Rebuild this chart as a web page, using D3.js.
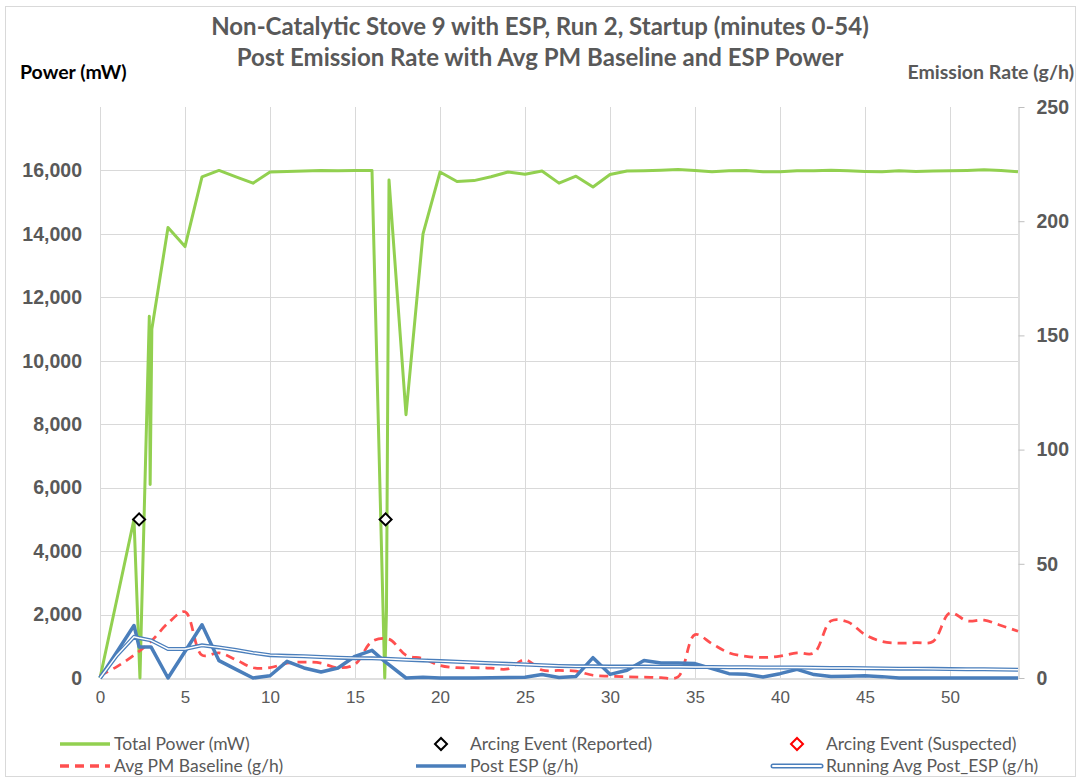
<!DOCTYPE html>
<html>
<head>
<meta charset="utf-8">
<script src="https://cdn.jsdelivr.net/npm/d3@7"></script>
<style>
  body { margin: 0; background: #fff; }
  svg { display: block; font-family: Lato, "Open Sans", sans-serif; }
</style>
</head>
<body>
<svg id="chart" width="1080" height="778"></svg>
<script>
// minutes for the per-minute series
const minutes = [0,1,2,3,4,5,6,7,8,9,10,11,12,13,14,15,16,17,18,19,20,21,22,23,24,25,26,27,
  28,29,30,31,32,33,34,35,36,37,38,39,40,41,42,43,44,45,46,47,48,49,50,51,52,53,54];

// total ESP power (mW), sampled finer around the arcing events
const powerTimes = [0,1,2,2.35,2.45,2.9,2.95,3.05,4,5,6,7,8,9,10,11,12,13,14,15,16,16.75,16.85,17,
  18,19,20,21,22,23,24,25,26,27,28,29,30,31,32,33,34,35,36,37,38,39,40,41,42,43,44,45,46,47,48,49,50,51,52,53,54];
const totalPower = [0,2500,5000,0,2100,11400,6100,11000,14200,13600,15800,16000,15800,15600,15950,15970,15980,16000,15990,16000,16000,0,2100,15700,
  8300,14000,15950,15650,15680,15800,15950,15880,15980,15600,15820,15480,15870,15980,15990,16010,16030,16000,15960,15990,16000,15960,15960,15990,15990,16010,15990,15970,15960,15990,15970,15980,15990,16000,16020,16000,15960];

// arcing events
const reportedTimes = [2.3, 16.8];
const reportedPower = [5000, 5000];
const suspectedTimes = [];
const suspectedPower = [];

// average PM baseline (g/h), one per minute
const avgBaseline = [1,5,10,16,24,29,10,11,8,4.5,4.5,6.5,7,6.5,4.5,6,16,17,10,8.5,5.5,4.5,4.5,4.3,4,8,3.5,3.3,3,1.2,
  0.8,0.5,0.4,0.2,0.5,19,15,11,9.5,9,9.6,11,11,25,24.5,19,16,15.3,15.5,16,28.5,25,25.3,23,20.5];

// post ESP emission rate and its running average (g/h)
const espTimes = [0,1,2,2.3,3,4,5,6,7,8,9,10,11,12,13,14,15,16,16.8,18,19,20,21,22,23,24,25,26,27,28,29,30,
  31,32,33,34,35,36,37,38,39,40,41,42,43,44,45,46,47,48,49,50,51,52,53,54];
const postEsp = [0,11.5,23,13.6,13.6,0,11.6,23.3,7.6,3.8,0,1,7.3,4.4,2.6,4.4,9.5,12.1,6.9,0,0.3,0,0,0,0.1,0.2,0.3,1.5,0.2,0.7,8.9,1.6,
  3.4,7.7,6.6,6.6,6.3,4.1,1.9,1.6,0.4,1.9,3.8,1.5,0.7,0.8,1,0.6,0,0,0,0,0,0,0,0];
const runningAvg = [0,10,18,17.5,16.5,12.7,12.7,14.3,13.4,12.3,11,10,9.7,9.5,9.2,8.9,8.7,8.6,8.4,8,7.7,7.4,7.1,6.8,6.5,6.2,5.9,5.6,5.3,5.1,5.1,5.0,
  5.0,5.0,4.9,4.9,4.8,4.8,4.7,4.7,4.6,4.6,4.6,4.5,4.4,4.4,4.3,4.2,4.1,4.1,4.0,3.9,3.8,3.8,3.7,3.6];

const xTicks = [0,5,10,15,20,25,30,35,40,45,50];
const powerTicks = [0,2000,4000,6000,8000,10000,12000,14000,16000];
const rateTicks = [0,50,100,150,200,250];

const titleLines = ['Non-Catalytic Stove 9 with ESP, Run 2, Startup (minutes 0-54)',
  'Post Emission Rate with Avg PM Baseline and ESP Power'];

const green = '#92d050', blue = '#4a7ebb', red = '#ff4f4f', grid = '#d9d9d9', textGray = '#595959';

const svg = d3.select('#chart');
const plot = { left: 100, right: 1018, top: 107, bottom: 678 };

const x = d3.scaleLinear().domain([0, 54]).range([plot.left, plot.right]);
const yPower = d3.scaleLinear().domain([0, 18000]).range([plot.bottom, plot.top]);
const yRate = d3.scaleLinear().domain([0, 250]).range([plot.bottom, plot.top]);

// outer border
svg.append('rect')
    .attr('x', 5.5).attr('y', 6.5).attr('width', 1070).attr('height', 770)
    .attr('fill', 'none').attr('stroke', grid);

// title
svg.append('g').selectAll('text').data(titleLines).join('text')
    .attr('x', 540).attr('y', (d, i) => 35 + i * 31)
    .attr('text-anchor', 'middle')
    .attr('font-size', 24).attr('font-weight', 'bold').attr('fill', textGray)
    .text(d => d);

// gridlines
svg.append('g').selectAll('line').data(powerTicks.filter(d => d > 0)).join('line')
    .attr('x1', plot.left).attr('x2', plot.right)
    .attr('y1', d => Math.round(yPower(d)) + 0.5).attr('y2', d => Math.round(yPower(d)) + 0.5)
    .attr('stroke', grid);
svg.append('g').selectAll('line').data(xTicks).join('line')
    .attr('x1', d => Math.round(x(d)) + 0.5).attr('x2', d => Math.round(x(d)) + 0.5)
    .attr('y1', plot.top).attr('y2', plot.bottom)
    .attr('stroke', grid);

// bottom axis
const xAxis = svg.append('g')
    .attr('transform', `translate(0,${plot.bottom + 0.5})`)
    .call(d3.axisBottom(x).tickValues(xTicks).tickSize(0).tickPadding(12));
xAxis.select('.domain').attr('stroke', '#bfbfbf');
xAxis.selectAll('text').attr('font-size', 17).attr('fill', textGray).attr('font-family', null);

// left axis (labels only)
const leftAxis = svg.append('g')
    .attr('transform', `translate(${plot.left},0)`)
    .call(d3.axisLeft(yPower).tickValues(powerTicks).tickSize(0).tickPadding(18).tickFormat(d3.format(',')));
leftAxis.select('.domain').remove();
leftAxis.selectAll('text').attr('font-size', 19.5).attr('font-weight', 'bold').attr('fill', textGray).attr('font-family', null);

// right axis
const rightAxis = svg.append('g')
    .attr('transform', `translate(${plot.right + 0.5},0)`)
    .call(d3.axisRight(yRate).tickValues(rateTicks).tickSizeInner(6).tickSizeOuter(0).tickPadding(12));
rightAxis.select('.domain').attr('stroke', '#bfbfbf');
rightAxis.selectAll('.tick line').attr('stroke', '#bfbfbf');
rightAxis.selectAll('text').attr('font-size', 19.5).attr('font-weight', 'bold').attr('fill', textGray).attr('font-family', null);

// axis titles
svg.append('text').attr('x', 20).attr('y', 79)
    .attr('font-size', 19.5).attr('font-weight', 'bold').attr('fill', '#000')
    .text('Power (mW)');
svg.append('text').attr('x', 1074).attr('y', 79).attr('text-anchor', 'end')
    .attr('font-size', 19.5).attr('font-weight', 'bold').attr('fill', textGray)
    .text('Emission Rate (g/h)');

// series
const powerLine = d3.line().x(d => x(d[0])).y(d => yPower(d[1]));
const rateLine = d3.line().x(d => x(d[0])).y(d => yRate(d[1]));
const smoothRate = d3.line().x(d => x(d[0])).y(d => yRate(d[1])).curve(d3.curveCatmullRom.alpha(0.5));

svg.append('path')
    .datum(d3.zip(powerTimes, totalPower))
    .attr('fill', 'none').attr('stroke', green).attr('stroke-width', 3)
    .attr('stroke-linejoin', 'round')
    .attr('d', powerLine);

svg.append('path')
    .datum(d3.zip(minutes, avgBaseline))
    .attr('fill', 'none').attr('stroke', red).attr('stroke-width', 2.75)
    .attr('stroke-dasharray', '9 6')
    .attr('d', smoothRate);

svg.append('path')
    .datum(d3.zip(espTimes, postEsp))
    .attr('fill', 'none').attr('stroke', blue).attr('stroke-width', 3.5)
    .attr('stroke-linejoin', 'round')
    .attr('d', rateLine);

const avgData = d3.zip(espTimes, runningAvg);
svg.append('path').datum(avgData)
    .attr('fill', 'none').attr('stroke', blue).attr('stroke-width', 4)
    .attr('d', rateLine);
svg.append('path').datum(avgData)
    .attr('fill', 'none').attr('stroke', '#fff').attr('stroke-width', 1.4)
    .attr('d', rateLine);

// arcing event markers
const diamond = d3.symbol().type(d3.symbolSquare).size(72);
svg.append('g').selectAll('path').data(d3.zip(reportedTimes, reportedPower)).join('path')
    .attr('d', diamond)
    .attr('transform', d => `translate(${x(d[0])},${yPower(d[1])}) rotate(45)`)
    .attr('fill', '#fff').attr('stroke', '#000').attr('stroke-width', 2);
svg.append('g').selectAll('path').data(d3.zip(suspectedTimes, suspectedPower)).join('path')
    .attr('d', diamond)
    .attr('transform', d => `translate(${x(d[0])},${yPower(d[1])}) rotate(45)`)
    .attr('fill', '#fff').attr('stroke', '#ff0000').attr('stroke-width', 2);

// legend
const legendItems = [
  { label: 'Total Power (mW)', kind: 'line', color: green, col: 0, row: 0 },
  { label: 'Arcing Event (Reported)', kind: 'marker', color: '#000', col: 1, row: 0 },
  { label: 'Arcing Event (Suspected)', kind: 'marker', color: '#ff0000', col: 2, row: 0 },
  { label: 'Avg PM Baseline (g/h)', kind: 'dash', color: red, col: 0, row: 1 },
  { label: 'Post ESP (g/h)', kind: 'line', color: blue, col: 1, row: 1 },
  { label: 'Running Avg Post_ESP (g/h)', kind: 'double', color: blue, col: 2, row: 1 }
];
const colX = [60, 416, 772];
const rowY = [744, 766];

const legend = svg.append('g');
legendItems.forEach(item => {
  const g = legend.append('g')
      .attr('transform', `translate(${colX[item.col]},${rowY[item.row]})`);
  if (item.kind === 'marker') {
    g.append('path').attr('d', diamond)
        .attr('transform', 'translate(25,0) rotate(45)')
        .attr('fill', '#fff').attr('stroke', item.color).attr('stroke-width', 2);
  } else if (item.kind === 'double') {
    g.append('line').attr('x1', 1).attr('x2', 49).attr('stroke', item.color)
        .attr('stroke-width', 5).attr('stroke-linecap', 'round');
    g.append('line').attr('x1', 1).attr('x2', 49).attr('stroke', '#fff')
        .attr('stroke-width', 2).attr('stroke-linecap', 'round');
  } else {
    g.append('line').attr('x1', 0).attr('x2', 50).attr('stroke', item.color)
        .attr('stroke-width', 3.5)
        .attr('stroke-dasharray', item.kind === 'dash' ? '9 6' : null);
  }
  g.append('text').attr('x', 54).attr('dy', '0.35em')
      .attr('font-size', 17.5).attr('fill', textGray)
      .text(item.label);
});
</script>
</body>
</html>
